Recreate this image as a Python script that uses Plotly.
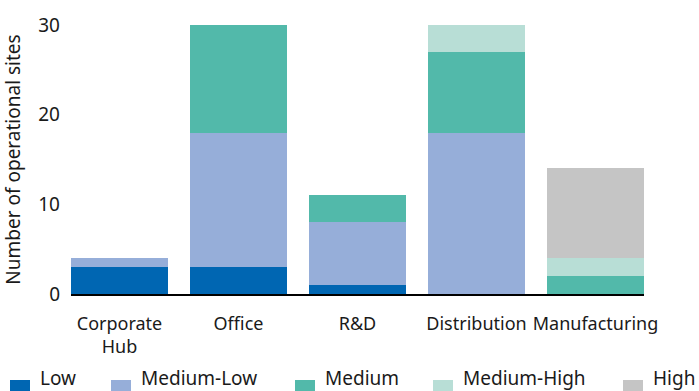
import plotly.graph_objects as go

categories = ["Corporate<br>Hub", "Office", "R&D", "Distribution", "Manufacturing"]
series_names = ["Low", "Medium-Low", "Medium", "Medium-High", "High"]
low = [3, 3, 1, 0, 0]
medium_low = [1, 15, 7, 18, 0]
medium = [0, 12, 3, 9, 2]
medium_high = [0, 0, 0, 3, 2]
high = [0, 0, 0, 0, 10]
y_ticks = [0, 10, 20, 30]

series_values = [low, medium_low, medium, medium_high, high]
colors = ["#0066b2", "#96aed9", "#52b9aa", "#b8ded6", "#c5c5c5"]

FONT = "Noto Sans"
TXT = "#1a1a1a"
W, H = 699, 391
ML, MR, MT, MB = 71, 55, 25, 97
PW = W - ML - MR
PH = H - MT - MB

fig = go.Figure()
for name, vals, col in zip(series_names, series_values, colors):
    fig.add_trace(go.Bar(x=categories, y=vals, name=name, marker=dict(color=col, line=dict(width=0)),
                         showlegend=False))

def px_to_paper_x(px):
    return (px - ML) / PW

def px_to_paper_y(py):
    return (H - MB - py) / PH

# manual legend (layout positions in pixels)
legend_x = [10, 111, 295, 433, 623]
shapes = []
annotations = []
for name, col, lx in zip(series_names, colors, legend_x):
    shapes.append(dict(type="rect", xref="paper", yref="paper",
                       x0=px_to_paper_x(lx), x1=px_to_paper_x(lx + 20),
                       y0=px_to_paper_y(380), y1=px_to_paper_y(400),
                       fillcolor=col, line=dict(width=0)))
    annotations.append(dict(xref="paper", yref="paper", x=px_to_paper_x(lx + 29),
                            y=px_to_paper_y(377.5), xanchor="left", yanchor="middle",
                            text=name, showarrow=False, borderpad=0,
                            font=dict(family=FONT, size=19, color=TXT)))

fig.update_layout(
    width=W, height=H, autosize=False,
    margin=dict(l=ML, r=MR, t=MT, b=MB, pad=0, autoexpand=False),
    barmode="stack", bargap=0.185,
    plot_bgcolor="white", paper_bgcolor="white",
    font=dict(family=FONT, size=19, color=TXT),
    shapes=shapes, annotations=annotations,
    xaxis=dict(type="category", range=[-0.4076, 4.4076], showline=True, linecolor="black",
               linewidth=2, ticks="", showgrid=False, zeroline=False, tickangle=0,
               automargin=False,
               tickfont=dict(family=FONT, size=18, color=TXT), ticklabelstandoff=12),
    yaxis=dict(range=[0, 30], tickvals=y_ticks, showgrid=False, zeroline=False, showline=False,
               ticks="", ticklabelstandoff=10, automargin=False,
               tickfont=dict(family=FONT, size=19, color=TXT),
               title=dict(text="Number of operational sites", standoff=12,
                          font=dict(family=FONT, size=19, color=TXT))),
)

fig.write_html("out.html")
